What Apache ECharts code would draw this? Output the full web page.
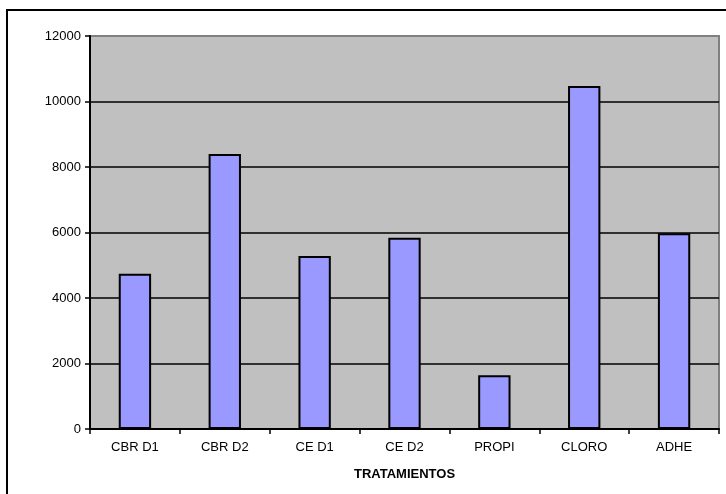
<!DOCTYPE html>
<html>
<head>
<meta charset="utf-8">
<script src="https://cdn.jsdelivr.net/npm/echarts@6/dist/echarts.min.js"></script>
<style>
  html, body { margin: 0; padding: 0; background: #fff; }
  #chart { width: 726px; height: 494px; }
</style>
</head>
<body>
<div id="chart"></div>
<script>
// Treatments on the category axis
const categories = ['CBR D1', 'CBR D2', 'CE D1', 'CE D2', 'PROPI', 'CLORO', 'ADHE'];
// Measured value for each treatment
const values = [4740, 8400, 5280, 5840, 1640, 10470, 5980];
// Value axis range and step
const yMin = 0;
const yMax = 12000;
const yStep = 2000;

const FONT = "'Liberation Sans', Arial, sans-serif";

const chart = echarts.init(document.getElementById('chart'), null, { renderer: 'canvas' });

chart.setOption({
  animation: false,
  backgroundColor: '#ffffff',
  textStyle: { fontFamily: FONT },
  graphic: [
    {
      type: 'rect',
      shape: { x: 7, y: 10, width: 800, height: 600 },
      style: { fill: 'none', stroke: '#000', lineWidth: 2 },
      silent: true
    }
  ],
  grid: {
    left: 90,
    right: 7,
    top: 36,
    bottom: 65,
    show: true,
    backgroundColor: '#C0C0C0',
    borderColor: '#808080',
    borderWidth: 2
  },
  xAxis: {
    type: 'category',
    data: categories,
    name: 'TRATAMIENTOS',
    nameLocation: 'middle',
    nameGap: 39,
    nameTextStyle: { fontFamily: FONT, fontSize: 13, fontWeight: 'bold', color: '#000' },
    axisLine: { show: true, lineStyle: { color: '#000', width: 2 } },
    axisTick: { show: true, alignWithLabel: false, length: 5, lineStyle: { color: '#000', width: 1.5 } },
    axisLabel: { fontFamily: FONT, fontSize: 13, color: '#000', margin: 12 },
    splitLine: { show: false }
  },
  yAxis: {
    type: 'value',
    min: yMin,
    max: yMax,
    interval: yStep,
    axisLine: { show: true, lineStyle: { color: '#000', width: 2 } },
    axisTick: { show: true, length: 5, lineStyle: { color: '#000', width: 1.5 } },
    axisLabel: {
      fontFamily: FONT,
      fontSize: 13,
      color: '#000',
      margin: 9,
      formatter: (v) => String(v)
    },
    splitLine: {
      show: true,
      lineStyle: {
        color: ['#000', '#000', '#000', '#000', '#000', '#000', '#808080'],
        width: 1.5
      }
    }
  },
  series: [
    {
      type: 'bar',
      data: values,
      barWidth: '36%',
      itemStyle: { color: '#9999FF', borderColor: '#000', borderWidth: 2 },
      z: 3
    }
  ]
});
</script>
</body>
</html>
